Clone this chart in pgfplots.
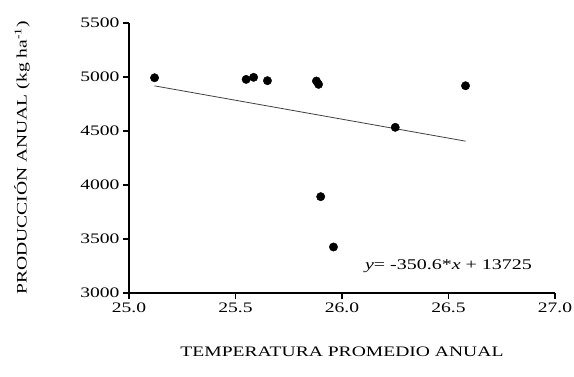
\documentclass[border=0pt]{standalone}
\usepackage{fontspec}
\setmainfont{Liberation Serif}[FakeStretch=1.35]
\usepackage{pgfplots}
\pgfplotsset{compat=1.18}
\begin{document}
\begin{tikzpicture}
\begin{axis}[
  at={(0pt,0pt)}, anchor=south west,
  scale only axis, width=426pt, height=270pt,
  xmin=25, xmax=27, ymin=3000, ymax=5500,
  axis x line=bottom, axis y line=left,
  axis line style={line width=1.8pt, black, -},
  xtick={25,25.5,26,26.5,27}, ytick={3000,3500,4000,4500,5000,5500},
  major tick style={line width=1.5pt, black},
  tick align=outside, major tick length=6pt,
  xticklabel={\pgfmathprintnumber[fixed,fixed zerofill,precision=1,assume math mode=true]{\tick}},
  yticklabel={\pgfmathprintnumber[fixed,1000 sep={},precision=0,assume math mode=true]{\tick}},
  tick label style={font=\fontsize{14.5}{17}\selectfont},
  xlabel={TEMPERATURA PROMEDIO ANUAL},
  ylabel={PRODUCCIÓN ANUAL (kg ha\textsuperscript{-1})},
  xlabel style={font=\fontsize{14.5}{16}\selectfont, at={(rel axis cs:0.5,0)}, yshift=-59pt, anchor=center},
  ylabel style={font=\fontsize{14.5}{16}\selectfont, at={(rel axis cs:0,0.5)}, yshift=107pt, anchor=center},
  clip=false,
]
\addplot[only marks, mark=*, mark size=4.2pt, black] coordinates {
  (25.12,4993) (25.55,4978) (25.585,4997) (25.65,4966) (25.88,4963)
  (25.89,4932) (25.90,3892) (25.96,3426) (26.25,4534) (26.58,4919)
};
\addplot[black!75, line width=0.8pt] coordinates {(25.12,4918) (26.58,4406)};
\node[font=\fontsize{14.8}{17}\selectfont] at (axis cs:26.5,3250) {\textit{y}= -350.6*\textit{x} + 13725};
\end{axis}
\pgfresetboundingbox
\path (-129pt,-83pt) rectangle (445pt,293pt);
\end{tikzpicture}
\end{document}
